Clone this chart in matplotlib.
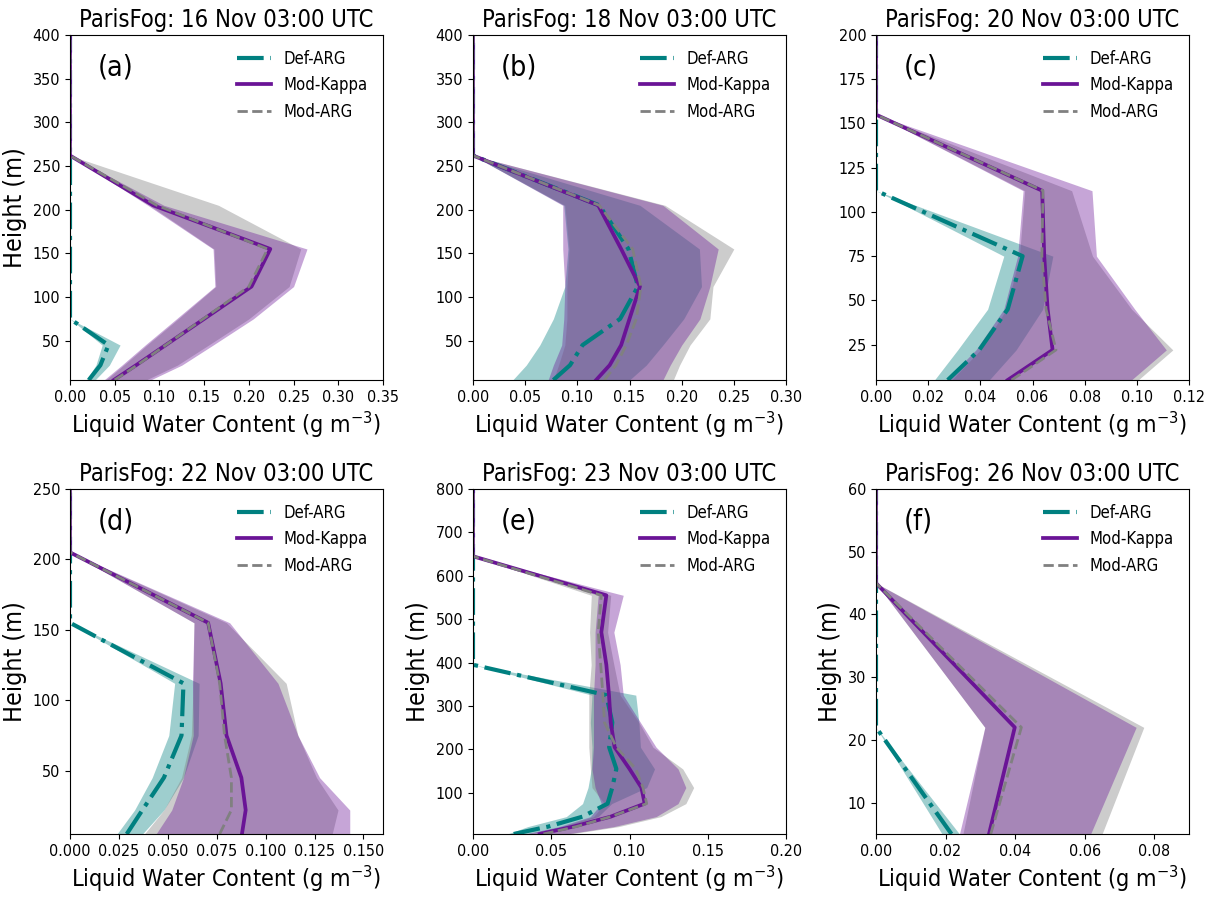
import matplotlib
matplotlib.use("Agg")
import matplotlib.pyplot as plt

plt.rcParams['font.family'] = ['DejaVu Sans']
plt.rcParams['font.stretch'] = 'condensed'

# model levels (m)
heights = [5, 22, 45, 75, 112, 155, 205, 262, 325, 395, 470, 555, 645, 745, 855]

titles = ['ParisFog: 16 Nov 03:00 UTC', 'ParisFog: 18 Nov 03:00 UTC', 'ParisFog: 20 Nov 03:00 UTC',
          'ParisFog: 22 Nov 03:00 UTC', 'ParisFog: 23 Nov 03:00 UTC', 'ParisFog: 26 Nov 03:00 UTC']
letters = ['(a)', '(b)', '(c)', '(d)', '(e)', '(f)']
xlims = [0.35, 0.30, 0.12, 0.16, 0.20, 0.09]
ylims = [400, 400, 200, 250, 800, 60]
xticks = [[0, 0.05, 0.10, 0.15, 0.20, 0.25, 0.30, 0.35],
          [0, 0.05, 0.10, 0.15, 0.20, 0.25, 0.30],
          [0, 0.02, 0.04, 0.06, 0.08, 0.10, 0.12],
          [0, 0.025, 0.05, 0.075, 0.10, 0.125, 0.15],
          [0, 0.05, 0.10, 0.15, 0.20],
          [0, 0.02, 0.04, 0.06, 0.08]]
xfmt = ['%.2f', '%.2f', '%.2f', '%.3f', '%.2f', '%.2f']
yticks = [[50, 100, 150, 200, 250, 300, 350, 400],
          [50, 100, 150, 200, 250, 300, 350, 400],
          [25, 50, 75, 100, 125, 150, 175, 200],
          [50, 100, 150, 200, 250],
          [100, 200, 300, 400, 500, 600, 700, 800],
          [10, 20, 30, 40, 50, 60]]
show_ylabel = [True, False, False, True, True, True]

# (a) 16 Nov
a_def = [0.021, 0.034, 0.043, 0, 0, 0, 0, 0, 0, 0, 0]
a_def_lo = [0.018, 0.029, 0.036, 0, 0, 0, 0, 0, 0, 0, 0]
a_def_hi = [0.028, 0.044, 0.056, 0, 0, 0, 0, 0, 0, 0, 0]
a_kap = [0.049, 0.074, 0.107, 0.150, 0.203, 0.224, 0.093, 0, 0, 0, 0]
a_kap_lo = [0.038, 0.058, 0.084, 0.119, 0.162, 0.160, 0.087, 0, 0, 0, 0]
a_kap_hi = [0.090, 0.125, 0.160, 0.205, 0.250, 0.265, 0.105, 0, 0, 0, 0]
a_arg = [0.050, 0.075, 0.107, 0.149, 0.200, 0.221, 0.097, 0, 0, 0, 0]
a_arg_lo = [0.040, 0.060, 0.086, 0.121, 0.163, 0.161, 0.089, 0, 0, 0, 0]
a_arg_hi = [0.085, 0.120, 0.155, 0.200, 0.245, 0.258, 0.166, 0, 0, 0, 0]

# (b) 18 Nov
b_def = [0.077, 0.093, 0.105, 0.141, 0.158, 0.149, 0.121, 0, 0, 0, 0]
b_def_lo = [0.038, 0.051, 0.064, 0.077, 0.088, 0.091, 0.087, 0, 0, 0, 0]
b_def_hi = [0.150, 0.166, 0.182, 0.202, 0.219, 0.217, 0.160, 0, 0, 0, 0]
b_kap = [0.118, 0.131, 0.142, 0.150, 0.160, 0.142, 0.120, 0, 0, 0, 0]
b_kap_lo = [0.072, 0.077, 0.085, 0.087, 0.088, 0.086, 0.086, 0, 0, 0, 0]
b_kap_hi = [0.182, 0.189, 0.200, 0.2175, 0.227, 0.235, 0.182, 0, 0, 0, 0]
b_arg = [0.126, 0.137, 0.147, 0.1565, 0.161, 0.153, 0.121, 0, 0, 0, 0]
b_arg_lo = [0.077, 0.082, 0.088, 0.090, 0.090, 0.092, 0.088, 0, 0, 0, 0]
b_arg_hi = [0.192, 0.198, 0.208, 0.227, 0.230, 0.250, 0.184, 0, 0, 0, 0]

# (c) 20 Nov
c_def = [0.0275, 0.0396, 0.0505, 0.0562, 0, 0, 0]
c_def_lo = [0.0224, 0.0313, 0.0428, 0.049, 0, 0, 0]
c_def_hi = [0.0434, 0.0537, 0.0639, 0.0678, 0, 0, 0]
c_kap = [0.0505, 0.0677, 0.0658, 0.0645, 0.0637, 0, 0]
c_kap_lo = [0.0268, 0.0383, 0.049, 0.0543, 0.0564, 0, 0]
c_kap_hi = [0.0979, 0.1113, 0.0992, 0.0845, 0.0828, 0, 0]
c_arg = [0.052, 0.069, 0.0652, 0.0636, 0.064, 0, 0]
c_arg_lo = [0.029, 0.040, 0.050, 0.055, 0.057, 0, 0]
c_arg_hi = [0.1005, 0.1138, 0.098, 0.083, 0.075, 0, 0]

# (d) 22 Nov
d_def = [0.029, 0.037, 0.048, 0.057, 0.058, 0, 0, 0]
d_def_lo = [0.024, 0.033, 0.042, 0.0505, 0.0535, 0, 0, 0]
d_def_hi = [0.037, 0.048, 0.058, 0.0655, 0.066, 0, 0, 0]
d_kap = [0.0879, 0.0898, 0.0876, 0.080, 0.077, 0.0706, 0, 0]
d_kap_lo = [0.044, 0.052, 0.058, 0.063, 0.0626, 0.0634, 0, 0]
d_kap_hi = [0.143, 0.143, 0.1276, 0.1165, 0.1063, 0.0816, 0, 0]
d_arg = [0.0765, 0.0825, 0.0825, 0.079, 0.0765, 0.0706, 0, 0]
d_arg_lo = [0.038, 0.048, 0.057, 0.062, 0.063, 0.0634, 0, 0]
d_arg_hi = [0.134, 0.137, 0.126, 0.1165, 0.1105, 0.080, 0, 0]

# (e) 23 Nov
e_def = [0.026, 0.048, 0.070, 0.086, 0.089, 0.0916, 0.087, 0.089, 0.0852, 0, 0, 0, 0, 0, 0]
e_def_lo = [0.022, 0.035, 0.0596, 0.070, 0.0735, 0.0756, 0.076, 0.075, 0.076, 0, 0, 0, 0, 0, 0]
e_def_hi = [0.035, 0.060, 0.080, 0.0886, 0.111, 0.116, 0.107, 0.106, 0.104, 0, 0, 0, 0, 0, 0]
e_kap = [0.0426, 0.064, 0.088, 0.1097, 0.1076, 0.100, 0.0905, 0.088, 0.0869, 0.0852, 0.082, 0.0852, 0, 0, 0]
e_kap_lo = [0.033, 0.055, 0.075, 0.082, 0.078, 0.076, 0.077, 0.077, 0.077, 0.078, 0.078, 0.080, 0, 0, 0]
e_kap_hi = [0.060, 0.090, 0.117, 0.131, 0.136, 0.131, 0.117, 0.107, 0.096, 0.094, 0.090, 0.096, 0, 0, 0]
e_arg = [0.045, 0.066, 0.088, 0.111, 0.1086, 0.104, 0.0916, 0.084, 0.083, 0.0816, 0.080, 0.082, 0, 0, 0]
e_arg_lo = [0.035, 0.057, 0.077, 0.084, 0.076, 0.075, 0.074, 0.074, 0.074, 0.0755, 0.0745, 0.0756, 0, 0, 0]
e_arg_hi = [0.062, 0.093, 0.120, 0.136, 0.141, 0.134, 0.115, 0.106, 0.094, 0.090, 0.086, 0.088, 0, 0, 0]

# (f) 26 Nov
f_def = [0.0217, 0, 0, 0]
f_def_lo = [0.019, 0, 0, 0]
f_def_hi = [0.024, 0, 0, 0]
f_kap = [0.0325, 0.0399, 0, 0]
f_kap_lo = [0.024, 0.0313, 0, 0]
f_kap_hi = [0.0617, 0.0748, 0, 0]
f_arg = [0.033, 0.0418, 0, 0]
f_arg_lo = [0.025, 0.0313, 0, 0]
f_arg_hi = [0.065, 0.077, 0, 0]

panels = [
    (a_def, a_def_lo, a_def_hi, a_kap, a_kap_lo, a_kap_hi, a_arg, a_arg_lo, a_arg_hi),
    (b_def, b_def_lo, b_def_hi, b_kap, b_kap_lo, b_kap_hi, b_arg, b_arg_lo, b_arg_hi),
    (c_def, c_def_lo, c_def_hi, c_kap, c_kap_lo, c_kap_hi, c_arg, c_arg_lo, c_arg_hi),
    (d_def, d_def_lo, d_def_hi, d_kap, d_kap_lo, d_kap_hi, d_arg, d_arg_lo, d_arg_hi),
    (e_def, e_def_lo, e_def_hi, e_kap, e_kap_lo, e_kap_hi, e_arg, e_arg_lo, e_arg_hi),
    (f_def, f_def_lo, f_def_hi, f_kap, f_kap_lo, f_kap_hi, f_arg, f_arg_lo, f_arg_hi),
]

c_teal = '#008080'
c_purple = '#6a1496'
c_gray = 'gray'

fig = plt.figure(figsize=(12.17, 8.97), dpi=100)
W, H = 1217.0, 897.0
lefts = [70, 473, 876]
tops = [35, 489]
aw, ah = 313, 345

for i, data in enumerate(panels):
    row, col = divmod(i, 3)
    ax = fig.add_axes([lefts[col] / W, 1 - (tops[row] + ah) / H, aw / W, ah / H])
    dv, dlo, dhi, kv, klo, khi, gv, glo, ghi = data
    z = heights[:len(dv)]

    ax.fill_betweenx(z, dlo, dhi, color=c_teal, alpha=0.38, lw=0)
    ax.fill_betweenx(z, glo, ghi, color=c_gray, alpha=0.4, lw=0)
    ax.fill_betweenx(z, klo, khi, color=c_purple, alpha=0.38, lw=0)
    ax.plot(dv, z, color=c_teal, ls='-.', lw=3, label='Def-ARG')
    ax.plot(kv, z, color=c_purple, ls='-', lw=2.7, label='Mod-Kappa')
    ax.plot(gv, z, color=c_gray, ls='--', lw=2, label='Mod-ARG')

    ax.set_xlim(0, xlims[i])
    ax.set_ylim(5, ylims[i])
    ax.set_xticks(xticks[i])
    ax.set_xticklabels([xfmt[i] % t for t in xticks[i]])
    ax.set_yticks(yticks[i])
    ax.tick_params(labelsize=11.5)
    ax.set_title(titles[i], fontsize=17)
    ax.set_xlabel('Liquid Water Content (g m$^{-3}$)', fontsize=16.8)
    if show_ylabel[i]:
        ax.set_ylabel('Height (m)', fontsize=18)
    ax.text(0.09, 0.905, letters[i], transform=ax.transAxes, fontsize=20.5, va='center')
    ax.legend(loc='upper right', frameon=False, fontsize=12)

fig.savefig('out.png', dpi=100)
